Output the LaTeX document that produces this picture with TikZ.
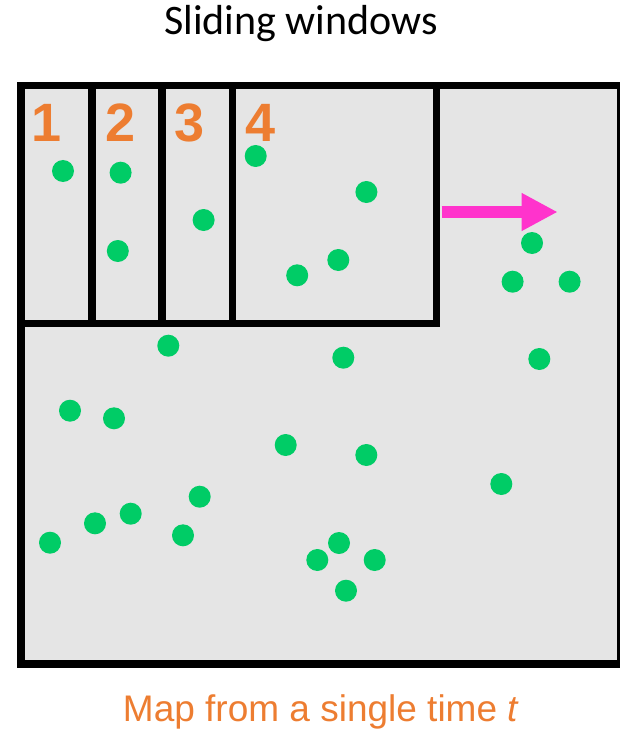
\documentclass[tikz,border=0pt]{standalone}
\usepackage{fontspec}
\setmainfont{Liberation Sans}
\newfontfamily\titlefont{Carlito}
\usepackage{tikz}
\usetikzlibrary{arrows.meta}
\usepackage{xcolor}

\begin{document}
\begin{tikzpicture}[x=1pt,y=-1pt]
  \definecolor{mapgray}{HTML}{E5E5E5}
  \definecolor{dotgreen}{HTML}{00CC66}
  \definecolor{winorange}{HTML}{ED7D31}
  \definecolor{slidepink}{HTML}{FF33CC}
  \tikzset{
    frame/.style={line width=7.6pt, line join=miter},
    winnum/.style={font=\fontsize{54}{54}\selectfont\bfseries, text=winorange, anchor=base, inner sep=0pt},
  }
  \useasboundingbox (0,0) rectangle (620,730);

  \node[font=\titlefont\fontsize{42}{42}\selectfont, anchor=base, inner sep=0pt] (title) at (301,35) {Sliding windows};

  % map and windows
  \fill[mapgray] (21.2,85.5) rectangle (620.5,664);
  \draw[frame] (21.2,85.5) rectangle (620.5,664);
  \draw[frame] (21.2,85.5) rectangle (436.5,323.5);
  \foreach \x in {92,162,232.5} {
    \draw[frame] (\x,85.5) -- (\x,323.5);
  }

  \node[winnum] (w1) at (46.6,141.7) {1};
  \node[winnum] (w2) at (120.5,141.7) {2};
  \node[winnum] (w3) at (189.7,141.7) {3};
  \node[winnum] (w4) at (261,141.7) {4};

  % points
  \foreach \x/\y in {63/171, 120.6/172.7, 117.8/251, 203.6/220, 255.7/156, 366.4/192,
                     338.3/260, 297.2/275.3, 532/243, 512.6/281.7, 569.6/281.7,
                     168.3/345.7, 70/410.7, 114/418.3, 285.7/445, 199.7/496.7, 130.7/513.7,
                     95/523.3, 183/535.3, 50/542.7, 343.3/357.7, 539.3/359, 366.3/455,
                     501.3/484, 339/543, 317.3/560, 374.7/560, 346/590.7} {
    \fill[dotgreen] (\x,\y) circle (11pt);
  }

  \coordinate (slide from) at (441.7,212);
  \coordinate (slide to) at (557.7,212);
  \draw[slidepink, line width=11.7pt, -{Triangle[length=36pt,width=35.3pt]}] (slide from) -- (slide to);

  \node[font=\fontsize{37}{37}\selectfont, text=winorange, anchor=base, inner sep=0pt] (caption) at (321,721.7) {Map from a single time \textit{t}};
\end{tikzpicture}
\end{document}
